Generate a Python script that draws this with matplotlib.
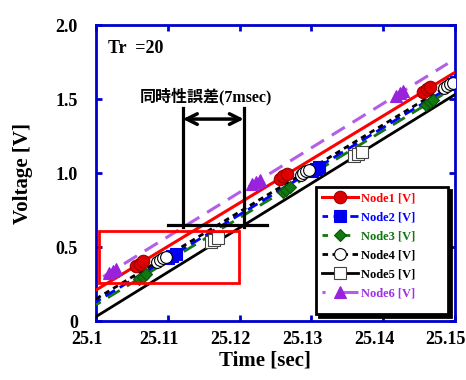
import matplotlib.pyplot as plt
from matplotlib.lines import Line2D
from matplotlib.patches import Rectangle
from matplotlib.transforms import ScaledTranslation

# --- data ---
names = ['Node1 [V]', 'Node2 [V]', 'Node3 [V]', 'Node4 [V]', 'Node5 [V]', 'Node6 [V]']

# straight ramps: start / end points
line_t = {
    'Node1 [V]': [25.100, 25.150],
    'Node2 [V]': [25.100, 25.152],
    'Node3 [V]': [25.100, 25.150],
    'Node4 [V]': [25.100, 25.150],
    'Node5 [V]': [25.100, 25.150],
    'Node6 [V]': [25.101, 25.149],
}
line_v = {
    'Node1 [V]': [0.21, 1.68],
    'Node2 [V]': [0.13, 1.66],
    'Node3 [V]': [0.11, 1.58],
    'Node4 [V]': [0.15, 1.62],
    'Node5 [V]': [0.03, 1.53],
    'Node6 [V]': [0.30, 1.74],
}

# marker clusters
mark_t = {
    'Node1 [V]': [25.1056, 25.1061, 25.1066, 25.1256, 25.1261, 25.1266, 25.1456, 25.1461, 25.1466],
    'Node2 [V]': [25.1101, 25.1106, 25.1111, 25.1301, 25.1306, 25.1311, 25.1497, 25.1502, 25.1507],
    'Node3 [V]': [25.1060, 25.1065, 25.1070, 25.1260, 25.1265, 25.1270, 25.1460, 25.1465, 25.1470],
    'Node4 [V]': [25.1085, 25.1089, 25.1093, 25.1097, 25.1285, 25.1289, 25.1293, 25.1297,
                  25.1485, 25.1489, 25.1493, 25.1497],
    'Node5 [V]': [25.1160, 25.1165, 25.1170, 25.1360, 25.1365, 25.1370],
    'Node6 [V]': [25.1018, 25.1023, 25.1028, 25.1218, 25.1223, 25.1228, 25.1418, 25.1423, 25.1428],
}
mark_v = {
    'Node1 [V]': [0.375, 0.389, 0.404, 0.963, 0.977, 0.992, 1.551, 1.565, 1.580],
    'Node2 [V]': [0.427, 0.442, 0.456, 1.015, 1.030, 1.044, 1.600, 1.615, 1.629],
    'Node3 [V]': [0.286, 0.301, 0.316, 0.874, 0.889, 0.904, 1.462, 1.477, 1.492],
    'Node4 [V]': [0.400, 0.412, 0.423, 0.435, 0.988, 1.000, 1.011, 1.023,
                  1.576, 1.588, 1.599, 1.611],
    'Node5 [V]': [0.535, 0.548, 0.561, 1.115, 1.128, 1.141],
    'Node6 [V]': [0.324, 0.339, 0.354, 0.924, 0.939, 0.954, 1.524, 1.539, 1.554],
}

x_ticks = [25.10, 25.11, 25.12, 25.13, 25.14, 25.15]
x_labels = ['25.1', '25.11', '25.12', '25.13', '25.14', '25.15']
y_ticks = [0, 0.5, 1.0, 1.5, 2.0]
y_labels = ['0', '0.5', '1.0', '1.5', '2.0']

# --- styles ---
styles = {
    'Node1 [V]': dict(color='#FF0000', ls='-', lw=2.2, marker='o', ms=9, mfc='#DD0000', mec='#990000', text='#FF0000', z=6),
    'Node2 [V]': dict(color='#0000FF', ls=(2, (4, 2)), lw=2.0, marker='s', ms=8, mfc='#0000EE', mec='#0000EE', text='#0000FF', z=4),
    'Node3 [V]': dict(color='#117711', ls=(3, (5, 3)), lw=2.0, marker='D', ms=6.5, mfc='#117711', mec='#0A550A', text='#117711', z=3),
    'Node4 [V]': dict(color='black', ls=(0, (2, 1.6)), lw=2.0, marker='o', ms=8.5, mfc='white', mec='black', text='black', z=7),
    'Node5 [V]': dict(color='black', ls='-', lw=2.0, marker='s', ms=8, mfc='white', mec='#444444', text='black', z=5),
    'Node6 [V]': dict(color='#B35EE6', ls=(0, (1, 5, 9, 5)), lw=2.2, marker='^', ms=8.5, mfc='#9922DD', mec='#9922DD', text='#A030E0', z=2),
}

serif = 'Liberation Serif'
fig = plt.figure(figsize=(4.66, 3.80), dpi=100)
ax = fig.add_axes([0.206, 0.155, 0.770, 0.779])

handles = []
for n in names:
    s = styles[n]
    ls_line = (0, (5, 3)) if n == 'Node6 [V]' else s['ls']
    ax.plot(line_t[n], line_v[n], color=s['color'], ls=ls_line, lw=s['lw'], zorder=s['z'])
    ax.plot(mark_t[n], mark_v[n], ls='none', marker=s['marker'], ms=s['ms'],
            mfc=s['mfc'], mec=s['mec'], mew=0.8, zorder=s['z'] + 10)
    handles.append(Line2D([], [], color=s['color'], ls=s['ls'], lw=s['lw'], marker=s['marker'],
                          ms=s['ms'], mfc=s['mfc'], mec=s['mec'], mew=0.8))

# simultaneity error annotation
ax.plot([25.1121, 25.1121], [0.635, 1.44], color='black', lw=2.3, zorder=30)
ax.plot([25.1206, 25.1206], [0.635, 1.44], color='black', lw=2.3, zorder=30)
ax.plot([25.1100, 25.1238], [0.65, 0.65], color='black', lw=2.3, zorder=30)
ax.annotate('', xy=(25.1121, 1.365), xytext=(25.1206, 1.365),
            arrowprops=dict(arrowstyle='<->', lw=2.5, color='black', mutation_scale=19,
                            shrinkA=0, shrinkB=0), zorder=30)
ax.text(25.1153, 1.52, '同時性誤差(7msec)', ha='center', va='center', fontsize=11.5,
        fontweight='bold', family=[serif, 'Noto Sans CJK JP'], zorder=30)
ax.add_patch(Rectangle((25.1004, 0.257), 0.0195, 0.351, fill=False, edgecolor='#FF0000',
                       lw=2, zorder=25))
ax.text(25.1017, 1.845, 'Tr  =20', ha='left', va='center', fontsize=13,
        fontweight='bold', family=serif)

ax.set_xlim(25.1, 25.15)
ax.set_ylim(0, 2.0)
ax.set_xticks(x_ticks)
ax.set_xticklabels(x_labels, fontsize=13, fontweight='bold', family=serif)
ax.set_yticks(y_ticks)
ax.set_yticklabels(y_labels, fontsize=13, fontweight='bold', family=serif)
ax.tick_params(direction='in', length=4, width=2, color='#0000CC', top=True, right=True)
ax.tick_params(axis='x', pad=7)
ax.tick_params(axis='y', pad=13)
shift = ScaledTranslation(-9 / 100, 0, fig.dpi_scale_trans)
for lab in ax.get_xticklabels():
    lab.set_transform(lab.get_transform() + shift)
for sp in ax.spines.values():
    sp.set_color('#0000CC')
    sp.set_linewidth(2)

ax.set_xlabel('Time [sec]', fontsize=15, fontweight='bold', family=serif)
ax.set_ylabel('Voltage [V]', fontsize=15, fontweight='bold', family=serif)
ax.xaxis.set_label_coords(0.472, -0.101)
ax.yaxis.set_label_coords(-0.175, 0.5)

# legend box with hard black shadow
box_x0, box_y0, box_w, box_h = 0.613, 0.024, 0.368, 0.429
sx, sy = 3 / 359, 3 / 296
ax.add_patch(Rectangle((box_x0 + sx, box_y0 - sy), box_w, box_h, transform=ax.transAxes,
                       facecolor='black', edgecolor='black', lw=2, zorder=38, clip_on=False))
ax.add_patch(Rectangle((box_x0, box_y0), box_w, box_h, transform=ax.transAxes,
                       facecolor='white', edgecolor='black', lw=2, zorder=39, clip_on=False))
leg = ax.legend(handles, names, loc='upper left', bbox_to_anchor=(box_x0, box_y0 + box_h),
                prop={'family': serif, 'weight': 'bold', 'size': 9}, handlelength=2.9,
                frameon=False, borderaxespad=0, borderpad=0.45,
                labelspacing=0.55, handletextpad=0.25)
leg.set_zorder(40)
for t, n in zip(leg.get_texts(), names):
    t.set_color(styles[n]['text'])

fig.savefig('out.png', dpi=100)
